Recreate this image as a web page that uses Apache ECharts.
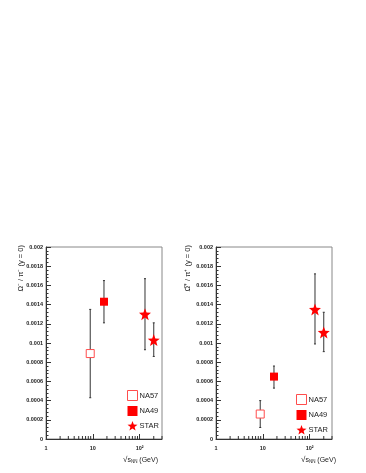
<!DOCTYPE html>
<html>
<head>
<meta charset="utf-8">
<script src="https://cdn.jsdelivr.net/npm/echarts@6/dist/echarts.min.js"></script>
<style>
  html, body { margin: 0; padding: 0; background: #fff; }
  #chart { width: 366px; height: 473px; }
</style>
</head>
<body>
<div id="chart"></div>
<script>
// sqrt(s_NN) in GeV
const NA57_X = [8.8]
const NA49_X = [17.3]
const STAR_X = [130, 200]

// Omega- / pi- (left panel): value, low, high
const OM_NA57 = [0.00089], OM_NA57_LO = [0.00043], OM_NA57_HI = [0.00135]
const OM_NA49 = [0.00143], OM_NA49_LO = [0.00121], OM_NA49_HI = [0.00165]
const OM_STAR = [0.00130, 0.00103], OM_STAR_LO = [0.00093, 0.00086], OM_STAR_HI = [0.00167, 0.00121]

// anti-Omega+ / pi+ (right panel)
const AOM_NA57 = [0.00026], AOM_NA57_LO = [0.00012], AOM_NA57_HI = [0.00040]
const AOM_NA49 = [0.00065], AOM_NA49_LO = [0.00053], AOM_NA49_HI = [0.00076]
const AOM_STAR = [0.00135, 0.00111], AOM_STAR_LO = [0.00099, 0.00091], AOM_STAR_HI = [0.00172, 0.00132]

const X_LABELS = { 1: '1', 10: '10', 100: '10²' }
const X_MINOR = [2, 3, 4, 5, 6, 7, 8, 9, 20, 30, 40, 50, 60, 70, 80, 90, 200, 300]

// 5 point star path
const starPath = (() => {
    let d = ''
    for (let i = 0; i < 10; i++) {
        const r = i % 2 === 0 ? 1 : 0.42
        const a = -Math.PI / 2 + i * Math.PI / 5
        d += (i === 0 ? 'M' : 'L') + (r * Math.cos(a)).toFixed(3) + ' ' + (r * Math.sin(a)).toFixed(3)
    }
    return 'path://' + d + 'Z'
})()

const RED = '#ff0000'
const LABEL_FONT = 'Liberation Sans, Arial, sans-serif'

const pts = (xs, ys) => xs.map((x, i) => [x, ys[i]])
const errs = (xs, lo, hi) => xs.map((x, i) => [x, lo[i], hi[i]])

const errorBarSeries = (idx, data) => ({
    type: 'custom',
    xAxisIndex: idx,
    yAxisIndex: idx,
    silent: true,
    z: 1,
    renderItem: function (params, api) {
        const lo = api.coord([api.value(0), api.value(1)])
        const hi = api.coord([api.value(0), api.value(2)])
        const style = { stroke: '#333', lineWidth: 1 }
        return {
            type: 'group',
            children: [
                { type: 'line', shape: { x1: lo[0], y1: lo[1], x2: hi[0], y2: hi[1] }, style },
                { type: 'line', shape: { x1: lo[0] - 1, y1: lo[1], x2: lo[0] + 1, y2: lo[1] }, style },
                { type: 'line', shape: { x1: hi[0] - 1, y1: hi[1], x2: hi[0] + 1, y2: hi[1] }, style }
            ]
        }
    },
    data: data
})

// minor ticks of the log x axis, drawn from the axis scale
const minorTickSeries = (idx) => ({
    type: 'custom',
    xAxisIndex: idx,
    yAxisIndex: idx,
    silent: true,
    clip: false,
    renderItem: function (params, api) {
        const p = api.coord([api.value(0), 0])
        return {
            type: 'line',
            shape: { x1: p[0], y1: p[1], x2: p[0], y2: p[1] - 3 },
            style: { stroke: '#333', lineWidth: 1 }
        }
    },
    data: X_MINOR.map(v => [v])
})

const markerSeries = (idx, na57, na49, star) => [
    {
        name: 'NA57', type: 'scatter', xAxisIndex: idx, yAxisIndex: idx, z: 3,
        symbol: 'rect', symbolSize: 8,
        itemStyle: { color: '#fff', borderColor: '#ff4d4d', borderWidth: 1, opacity: 1 },
        data: na57
    },
    {
        name: 'NA49', type: 'scatter', xAxisIndex: idx, yAxisIndex: idx, z: 3,
        symbol: 'rect', symbolSize: 8,
        itemStyle: { color: RED, opacity: 1 },
        data: na49
    },
    {
        name: 'STAR', type: 'scatter', xAxisIndex: idx, yAxisIndex: idx, z: 3,
        symbol: starPath, symbolSize: 12,
        itemStyle: { color: RED, opacity: 1 },
        data: star
    }
]

const xAxisOf = (idx) => ({
    type: 'log',
    logBase: 10,
    gridIndex: idx,
    min: 1,
    max: 300,
    axisLine: { show: true, lineStyle: { color: '#333', width: 1 } },
    axisTick: { show: true, inside: true, length: 5, lineStyle: { color: '#333' } },
    axisLabel: {
        fontSize: 5.5, color: '#222', fontFamily: LABEL_FONT, margin: 6, fontWeight: 'bold',
        showMaxLabel: false,
        formatter: v => X_LABELS[Math.round(v)] || ''
    },
    splitLine: { show: false }
})

const yAxisOf = (idx) => ({
    type: 'value',
    gridIndex: idx,
    min: 0,
    max: 0.002,
    interval: 0.0002,
    axisLine: { show: true, lineStyle: { color: '#333', width: 1 } },
    axisTick: { show: true, inside: true, length: 5, lineStyle: { color: '#333' } },
    minorTick: { show: true, splitNumber: 5, length: 2.5, lineStyle: { color: '#333' } },
    axisLabel: {
        fontSize: 5.5, color: '#222', fontFamily: LABEL_FONT, margin: 3, fontWeight: 'bold',
        formatter: v => (v === 0 ? '0' : String(+v.toFixed(5)))
    },
    splitLine: { show: false }
})

const legendOf = (left, top) => ({
    left: left,
    top: top,
    orient: 'vertical',
    itemGap: 5,
    itemWidth: 10,
    itemHeight: 10,
    padding: 0,
    textStyle: { fontSize: 7.5, color: '#222', fontFamily: LABEL_FONT, padding: [0, 0, 0, -3] },
    selectedMode: false,
    data: [
        { name: 'NA57', icon: 'rect', itemStyle: { color: '#fff', borderColor: '#ff4d4d', borderWidth: 1 } },
        { name: 'NA49', icon: 'rect', itemStyle: { color: RED } },
        { name: 'STAR', icon: starPath, itemStyle: { color: RED } }
    ]
})

const xTitle = (right) => ({
    type: 'text',
    right: right,
    top: 456,
    style: {
        text: '{r|√}{s|s}{n|NN}{g| (GeV)}',
        fontFamily: LABEL_FONT,
        fill: '#222',
        rich: {
            r: { fontSize: 8, fontFamily: LABEL_FONT },
            s: { fontSize: 7, fontFamily: LABEL_FONT },
            n: { fontSize: 4.5, fontFamily: LABEL_FONT, padding: [4, 0, 0, 0] },
            g: { fontSize: 7, fontFamily: LABEL_FONT }
        }
    }
})

const yTitle = (x, text) => ({
    type: 'text',
    x: x,
    y: 245,
    rotation: Math.PI / 2,
    style: {
        text: text,
        fontSize: 7.5,
        fontFamily: LABEL_FONT,
        fill: '#222',
        align: 'right',
        verticalAlign: 'middle'
    }
})

const option = {
    animation: false,
    backgroundColor: '#fff',
    grid: [
        { left: 46, top: 247, width: 116, height: 192, show: true, borderColor: '#888', borderWidth: 1 },
        { left: 216, top: 247, width: 116, height: 192, show: true, borderColor: '#888', borderWidth: 1 }
    ],
    xAxis: [xAxisOf(0), xAxisOf(1)],
    yAxis: [yAxisOf(0), yAxisOf(1)],
    legend: [legendOf(127, 390), legendOf(296, 394)],
    graphic: [
        yTitle(21, 'Ω⁻ / π⁻ (y = 0)'),
        yTitle(188, 'Ω\u0305⁺ / π⁺ (y = 0)'),
        xTitle(366 - 158),
        xTitle(366 - 336)
    ],
    series: [
        errorBarSeries(0, errs(NA57_X, OM_NA57_LO, OM_NA57_HI)
            .concat(errs(NA49_X, OM_NA49_LO, OM_NA49_HI))
            .concat(errs(STAR_X, OM_STAR_LO, OM_STAR_HI))),
        errorBarSeries(1, errs(NA57_X, AOM_NA57_LO, AOM_NA57_HI)
            .concat(errs(NA49_X, AOM_NA49_LO, AOM_NA49_HI))
            .concat(errs(STAR_X, AOM_STAR_LO, AOM_STAR_HI))),
        minorTickSeries(0),
        minorTickSeries(1),
        ...markerSeries(0, pts(NA57_X, OM_NA57), pts(NA49_X, OM_NA49), pts(STAR_X, OM_STAR)),
        ...markerSeries(1, pts(NA57_X, AOM_NA57), pts(NA49_X, AOM_NA49), pts(STAR_X, AOM_STAR))
    ]
}

var myChart = echarts.init(document.getElementById('chart'))
myChart.setOption(option)
</script>
</body>
</html>
